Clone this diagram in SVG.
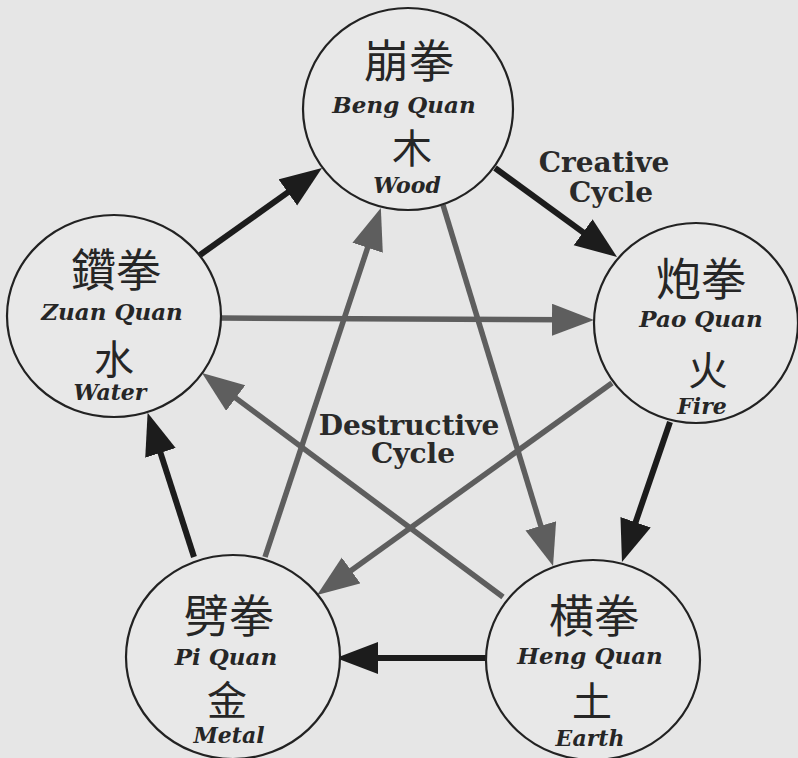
<svg xmlns="http://www.w3.org/2000/svg" width="798" height="758" viewBox="0 0 798 758">
<style>
.bg{fill:#e6e6e6}
.node ellipse{fill:#e8e8e8;stroke:#222;stroke-width:2.2}
.cjk{font-family:"Noto Sans CJK TC","Noto Sans CJK SC",sans-serif;font-size:45px;fill:#262626;text-anchor:middle}
.one{font-family:"Noto Sans CJK TC","Noto Sans CJK SC",sans-serif;font-size:40px;fill:#262626;text-anchor:middle}
.name{font-family:"DejaVu Serif","Liberation Serif",serif;font-weight:bold;font-style:italic;font-size:23px;fill:#262626;text-anchor:middle}
.elem{font-family:"DejaVu Serif","Liberation Serif",serif;font-weight:bold;font-style:italic;font-size:22px;fill:#262626;text-anchor:middle}
.label{font-family:"DejaVu Serif","Liberation Serif",serif;font-weight:bold;font-size:28px;fill:#2a2a2a;text-anchor:middle}
.creative{stroke:#1c1c1c;stroke-width:6;fill:none;marker-end:url(#headDark)}
.destructive{stroke:#5e5e5e;stroke-width:5.5;fill:none;marker-end:url(#headGray)}
</style>
<defs>
<marker id="headDark" markerUnits="userSpaceOnUse" markerWidth="44" markerHeight="34" refX="12" refY="16" orient="auto" viewBox="0 0 44 34">
<path d="M0,0 L42,16 L0,32 Z" fill="#1c1c1c"/>
</marker>
<marker id="headGray" markerUnits="userSpaceOnUse" markerWidth="44" markerHeight="34" refX="12" refY="16" orient="auto" viewBox="0 0 44 34">
<path d="M0,0 L42,16 L0,32 Z" fill="#5e5e5e"/>
</marker>
</defs>
<rect class="bg" x="0" y="0" width="798" height="758"/>
<g id="connectors">
<line class="creative" x1="200" y1="255" x2="297.6" y2="185.4"/>
<line class="creative" x1="495" y1="168" x2="592.8" y2="239.3"/>
<line class="creative" x1="670" y1="422" x2="631.7" y2="533.6"/>
<line class="creative" x1="486" y1="658" x2="366" y2="658"/>
<line class="creative" x1="194" y1="557" x2="156.8" y2="441.4"/>
<line class="destructive" x1="221" y1="318" x2="564" y2="319.8"/>
<line class="destructive" x1="265" y1="557" x2="371.4" y2="236.4"/>
<line class="destructive" x1="443" y1="205" x2="544.3" y2="537.3"/>
<line class="destructive" x1="503" y1="597" x2="226.1" y2="390.9"/>
<line class="destructive" x1="612" y1="383" x2="341.4" y2="577.5"/>
</g>
<g id="wood" class="node">
<ellipse cx="408" cy="109" rx="105" ry="101"/>
<text class="cjk" x="409" y="78">崩拳</text>
<text class="name" x="404" y="113">Beng Quan</text>
<text class="one" x="412" y="163">木</text>
<text class="elem" x="407" y="193">Wood</text>
</g>
<g id="fire" class="node">
<ellipse cx="696" cy="323" rx="102" ry="100"/>
<text class="cjk" x="701" y="296">炮拳</text>
<text class="name" x="701" y="327">Pao Quan</text>
<text class="one" x="708" y="385">火</text>
<text class="elem" x="702" y="414">Fire</text>
</g>
<g id="water" class="node">
<ellipse cx="114" cy="316" rx="107" ry="101"/>
<text class="cjk" x="116" y="287">鑽拳</text>
<text class="name" x="112" y="320">Zuan Quan</text>
<text class="one" x="114" y="374">水</text>
<text class="elem" x="110" y="400">Water</text>
</g>
<g id="metal" class="node">
<ellipse cx="233" cy="657" rx="107" ry="102"/>
<text class="cjk" x="229" y="633">劈拳</text>
<text class="name" x="226" y="665">Pi Quan</text>
<text class="one" x="227" y="715">金</text>
<text class="elem" x="229" y="743">Metal</text>
</g>
<g id="earth" class="node">
<ellipse cx="593" cy="660" rx="107" ry="100"/>
<text class="cjk" x="594" y="633">横拳</text>
<text class="name" x="590" y="664">Heng Quan</text>
<text class="one" x="592" y="716">土</text>
<text class="elem" x="590" y="746">Earth</text>
</g>
<g id="labels">
<text class="label" x="604" y="172">Creative</text>
<text class="label" x="611" y="202">Cycle</text>
<text class="label" x="409" y="435">Destructive</text>
<text class="label" x="413" y="463">Cycle</text>
</g>
</svg>
